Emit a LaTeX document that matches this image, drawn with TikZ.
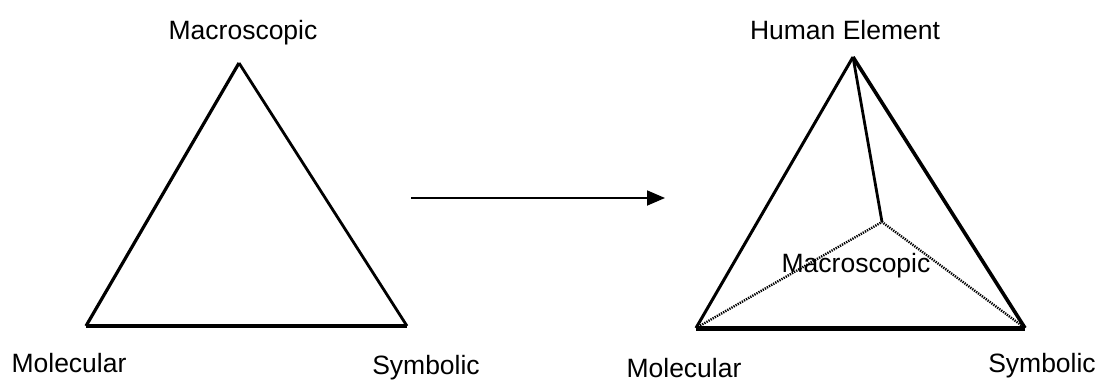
\documentclass[tikz,border=0pt]{standalone}
\usepackage{fontspec}
\setmainfont{Liberation Sans}
\usetikzlibrary{arrows.meta}
\begin{document}
\begin{tikzpicture}[x=1pt,y=-1pt,
  lbl/.style={font=\fontsize{26.5}{30}\selectfont, inner sep=0pt, anchor=base},
  dotline/.style={line width=2.4pt, dash pattern=on 1.3pt off 1.1pt}]
\useasboundingbox (0,0) rectangle (1097,381);
% left triangle
\coordinate (LA) at (239,63);
\coordinate (LB) at (86,326);
\coordinate (LC) at (407,326);
\draw[line width=3.6pt] (LB) -- (LC);
\draw[line width=3.2pt] (LA) -- (LB);
\draw[line width=2.8pt] (LA) -- (LC);
\node[lbl] (lmac) at (243,39) {Macroscopic};
\node[lbl] (lmol) at (69,372) {Molecular};
\node[lbl] (lsym) at (426,374) {Symbolic};
% arrow
\coordinate (AS) at (411,198);
\coordinate (AE) at (665,198);
\draw[line width=1.8pt, -{Triangle[length=18pt,width=15pt]}] (AS) -- (AE);
% right tetrahedron
\coordinate (RA) at (853,57);
\coordinate (RB) at (696,328);
\coordinate (RC) at (1025,328);
\coordinate (RD) at (882,222);
\draw[dotline] (RB) -- (RD) -- (RC);
\draw[line width=5pt] (RB) -- (RC);
\draw[line width=3pt] (RA) -- (RB);
\draw[line width=3.6pt] (RA) -- (RC);
\draw[line width=2.8pt] (RA) -- (RD);
\node[lbl] (rhum) at (845,39) {Human Element};
\node[lbl] (rmac) at (856,272) {Macroscopic};
\node[lbl] (rmol) at (684,377) {Molecular};
\node[lbl] (rsym) at (1042,372) {Symbolic};
\end{tikzpicture}
\end{document}
